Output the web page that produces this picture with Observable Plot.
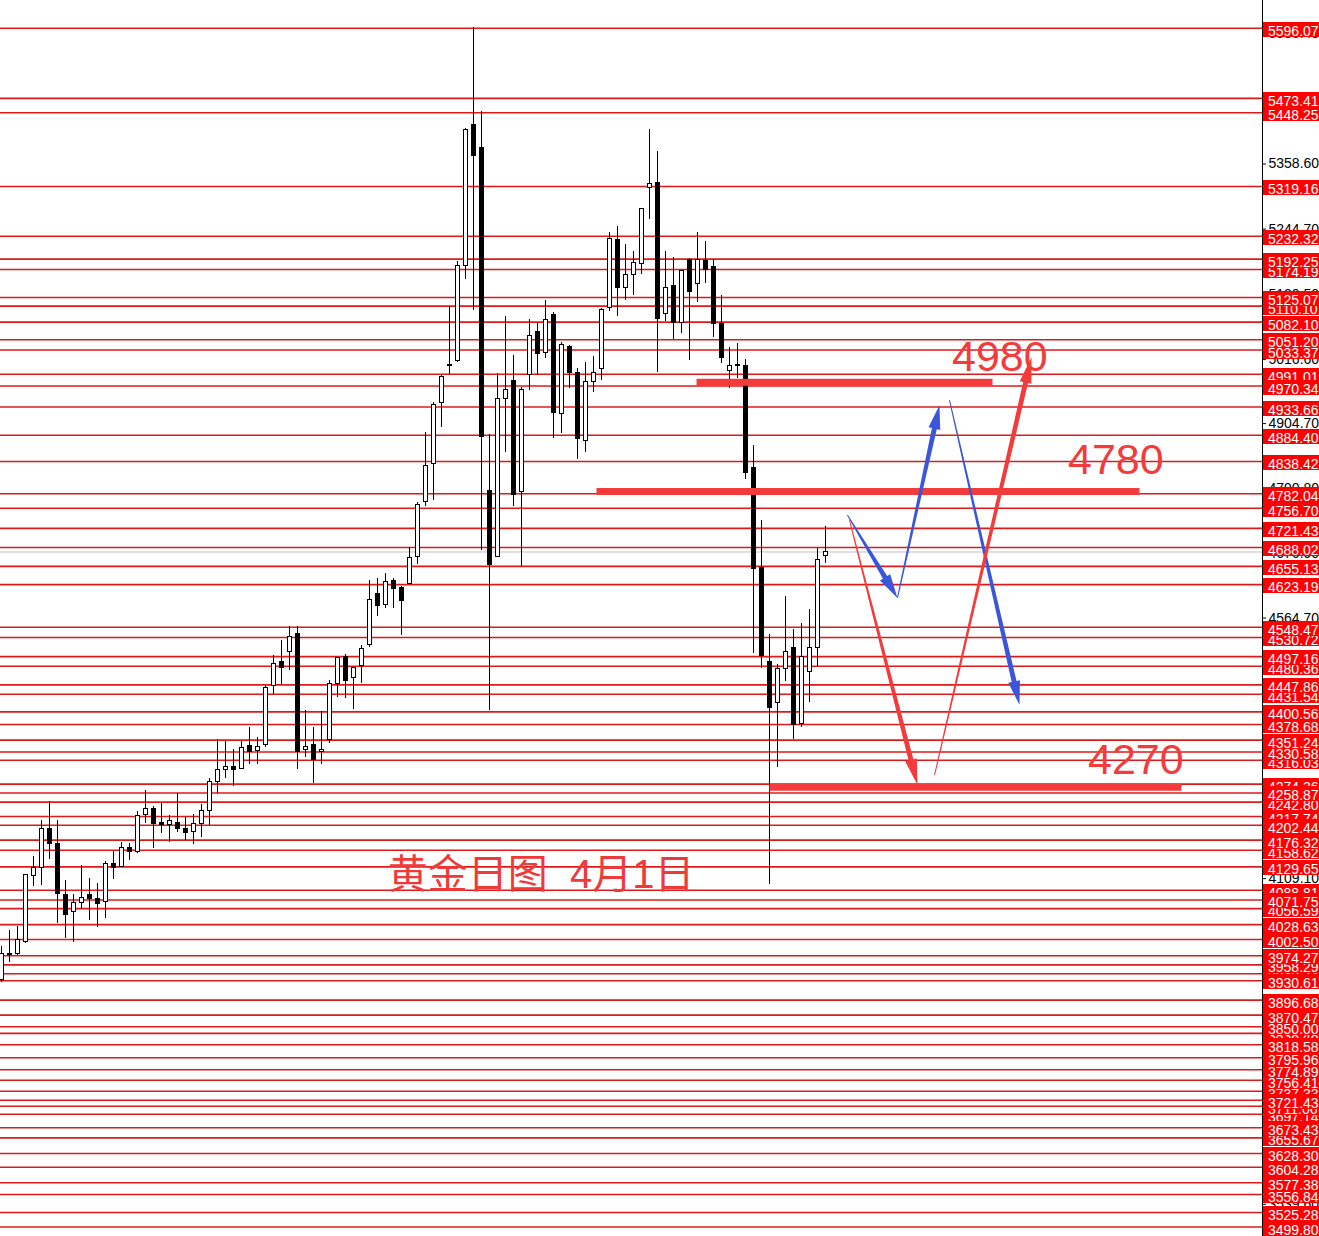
<!DOCTYPE html>
<html><head><meta charset="utf-8">
<script src="https://cdn.jsdelivr.net/npm/d3@7"></script>
<script src="https://cdn.jsdelivr.net/npm/@observablehq/plot@0.6"></script>
<style>
html,body{margin:0;padding:0;background:#fff;overflow:hidden;}
#chart svg{display:block;overflow:hidden;}
</style></head><body><div id="chart"></div>
<script>
// ---- daily gold candles (price units) ----
const openP = [3931,3978,3977,3998,4113,4127,4196,4170,4081,4050,4067,4080,4074,4069,4134,4130,4163,4156,4221,4231,4207,4202,4207,4196,4190,4205,4228,4278,4299,4305,4301,4341,4332,4342,4445,4487,4505,4536,4334,4342,4330,4351,4449,4496,4459,4480,4517,4606,4588,4630,4618,4625,4672,4767,4834,4940,5008,5015,5181,5426,5386,4786,4671,4947,4980,4785,4989,5064,5029,5094,4921,5039,4994,4874,4978,5001,5106,5226,5142,5165,5184,5316,5325,5097,5146,5081,5191,5149,5189,5179,5078,4996,5008,5005,4827,4653,4487,4416,4475,4513,4379,4470,4513,4674];
const highP = [3991,4019,4026,4117,4148,4211,4244,4210,4106,4081,4132,4109,4101,4139,4156,4172,4170,4226,4263,4235,4240,4219,4258,4216,4221,4238,4285,4352,4348,4334,4348,4374,4356,4447,4499,4525,4550,4550,4403,4374,4402,4456,4496,4501,4479,4517,4630,4634,4642,4634,4620,4688,4766,4889,4942,4989,5109,5188,5420,5597,5450,4886,4992,5092,5024,4968,5087,5080,5120,5099,5046,5041,5001,5012,5022,5106,5238,5249,5217,5205,5280,5419,5381,5205,5195,5172,5193,5238,5223,5191,5128,5038,5045,5017,4866,4735,4536,4484,4602,4545,4555,4580,4686,4724];
const lowP = [3928,3963,3975,3996,4095,4097,4142,4031,4005,3998,4055,4036,4024,4039,4108,4128,4141,4153,4205,4162,4188,4172,4190,4176,4169,4181,4202,4258,4284,4271,4300,4309,4309,4339,4431,4449,4473,4300,4321,4276,4309,4346,4426,4424,4405,4451,4513,4567,4581,4581,4534,4623,4658,4759,4771,4898,4991,5012,5156,5102,4683,4403,4671,4855,4759,4655,4963,4989,5019,4879,4888,4966,4842,4855,4959,4980,5101,5092,5120,5128,5165,5262,4994,5083,5052,5062,5015,5116,5149,5055,5010,4966,4984,4807,4503,4477,4099,4304,4454,4353,4374,4417,4480,4660];
const closeP = [3978,3975,4001,4115,4127,4195,4170,4083,4045,4067,4076,4074,4064,4134,4128,4163,4155,4219,4231,4205,4202,4209,4195,4188,4205,4228,4278,4299,4305,4299,4338,4330,4339,4443,4485,4478,4531,4330,4339,4316,4334,4449,4494,4454,4477,4510,4597,4585,4627,4616,4594,4670,4763,4830,4937,4987,5005,5181,5418,5372,4882,4658,4947,4963,4780,4963,5057,5026,5085,4923,5043,4994,4877,4977,4994,5104,5228,5142,5165,5186,5280,5323,5087,5141,5081,5172,5135,5191,5174,5078,5020,5006,5005,4818,4651,4498,4407,4475,4505,4377,4496,4512,4667,4681];

// ---- horizontal price levels (labels fully shown / partly covered) ----
const levelsFull = [3499.80,3525.28,3577.38,3628.30,3673.43,3721.43,3795.96,3818.58,3870.47,3896.68,3930.61,3974.27,4028.63,4071.75,4129.65,4176.32,4202.44,4258.87,4330.58,4351.24,4378.68,4400.56,4447.86,4497.16,4548.47,4623.19,4655.13,4688.02,4721.43,4756.70,4782.04,4838.42,4884.40,4933.66,4970.34,5051.20,5082.10,5125.07,5192.25,5232.32,5319.16,5448.25,5473.41,5596.07];
const levelsHidden = [3556.84,3604.28,3655.67,3697.14,3711.06,3737.33,3756.41,3774.89,3838.48,3850.00,3942.74,3958.29,4002.50,4056.59,4088.81,4158.62,4217.74,4242.80,4274.36,4316.03,4431.54,4480.36,4530.72,4991.01,5033.37,5110.10,5174.19];
const axisTicks = [5586.40,5472.50,5358.60,5244.70,5130.50,5016.60,4904.70,4790.80,4676.90,4564.70,4450.80,4336.90,4223.00,4109.10,3995.20,3881.30,3767.40,3653.50,3539.60];
const bidPrice = [4680.2];

// ---- hand-drawn annotations (candle index, price) ----
const zoneText = ["4980","4780","4270"];
const zonePrice = [4977,4786,4269];
const zoneFrom = [86.94,74.44,96.06];
const zoneTo = [123.94,142.31,147.56];
const zoneTextIdx = [118.81,133.31,135.81];
const zoneTextPrice = [5020,4840,4316];
const titleText = ["黄金日图  4月1日"];
const titleIdx = [67.44];
const titlePrice = [4114.5];
const blueArrows = [[105.8,4744,112.06,4599],[112.06,4599,117.31,4936],[118.56,4945,127.31,4412]];
const redArrows = [[106.06,4735,114.56,4272],[116.69,4289,128.81,5020]];

// ---- build ----
const W = 1319, H = 1236;
const xDomain = [-0.125, 157.625];
const yDomain = [3483.3, 5644.5];
const FONT = "'Liberation Sans', Arial, sans-serif";
const candles = openP.map((o, i) => ({i, open: o, high: highP[i], low: lowP[i], close: closeP[i]}));
const up = candles.filter(d => d.close >= d.open);
const down = candles.filter(d => d.close < d.open);
const zones = zonePrice.map((v, k) => ({v, a: zoneFrom[k], b: zoneTo[k], t: zoneText[k], tx: zoneTextIdx[k], ty: zoneTextPrice[k]}));
const toRows = arr => arr.map(a => ({x1: a[0], y1: a[1], x2: a[2], y2: a[3]}));

function taperArrows(rows, color, w1, hw, L) {
  return Plot.arrow(rows, {x1: "x1", y1: "y1", x2: "x2", y2: "y2", render(index, scales, values) {
    const g = d3.create("svg:g");
    for (const i of index) {
      const sx = values.x1[i], sy = values.y1[i], ex = values.x2[i], ey = values.y2[i];
      const dx = ex - sx, dy = ey - sy, len = Math.hypot(dx, dy);
      const ux = dx / len, uy = dy / len, nx = -uy, ny = ux;
      const w0 = 0.5;
      const bx = ex - ux * L, by = ey - uy * L;
      const pts = [[sx + nx * w0, sy + ny * w0], [bx + nx * w1, by + ny * w1], [bx + nx * hw, by + ny * hw], [ex, ey],
                   [bx - nx * hw, by - ny * hw], [bx - nx * w1, by - ny * w1], [sx - nx * w0, sy - ny * w0]];
      g.append("path").attr("d", "M" + pts.map(p => p[0].toFixed(2) + "," + p[1].toFixed(2)).join("L") + "Z")
        .attr("fill", color).attr("stroke", "none");
    }
    return g.node();
  }});
}

function labelBoxes(vals) {
  return Plot.text(vals, {y: d => d, text: d => d.toFixed(2), render(index, scales, values, dimensions) {
    const g = d3.create("svg:g").attr("text-anchor", "start");
    const left = dimensions.width - dimensions.marginRight + 1;
    for (const i of index) {
      const y = Math.round(values.y[i]);
      g.append("rect").attr("x", left).attr("y", y - 6).attr("width", dimensions.marginRight).attr("height", 15)
        .attr("fill", "#f00").attr("stroke", "none");
      g.append("text").attr("x", left + 5).attr("y", y + 7.5).attr("fill", "#fff").attr("stroke", "none")
        .attr("text-anchor", "start").attr("font-size", 14).attr("font-family", FONT).text(vals[i].toFixed(2));
    }
    return g.node();
  }});
}

const chart = Plot.plot({
  width: W, height: H,
  marginLeft: 0, marginRight: 57, marginTop: 0, marginBottom: 0,
  x: {domain: xDomain, axis: null},
  y: {domain: yDomain, axis: null},
  style: {fontFamily: FONT, fontSize: "14px", background: "#fff", overflow: "hidden"},
  marks: [
    Plot.ruleY(levelsHidden.concat(levelsFull), {stroke: "#dc1a1a", strokeWidth: 1.6}),
    Plot.ruleY(bidPrice, {stroke: "#c0c0c0", strokeWidth: 1}),
    Plot.axisY(axisTicks, {anchor: "right", tickSize: 3, tickPadding: 3, tickFormat: d => d.toFixed(2), fontSize: 14, label: null, fill: "#000", stroke: "#000"}),
    Plot.ruleX([xDomain[1]], {stroke: "#000", shapeRendering: "crispEdges"}),
    Plot.ruleX(candles, {x: "i", y1: "low", y2: "high", stroke: "#000", strokeWidth: 1, shapeRendering: "crispEdges"}),
    Plot.rect(up, {x1: d => d.i - 0.25, x2: d => d.i + 0.25, y1: "open", y2: "close", fill: "#fff", stroke: "#000", strokeWidth: 1, shapeRendering: "crispEdges"}),
    Plot.rect(down, {x1: d => d.i - 0.25, x2: d => d.i + 0.25, y1: "open", y2: "close", fill: "#000", stroke: "#000", strokeWidth: 1, shapeRendering: "crispEdges"}),
    Plot.ruleY(zones, {y: "v", x1: "a", x2: "b", stroke: "#f33b3b", strokeWidth: 7}),
    Plot.text(zones, {x: "tx", y: "ty", text: "t", textAnchor: "start", lineAnchor: "middle", fontSize: 43, fill: "#f33b3b", fontFamily: FONT}),
    Plot.text(titleText, {x: () => titleIdx[0], y: () => titlePrice[0], text: d => d, textAnchor: "middle", lineAnchor: "middle", fontSize: 40, fill: "#f03a3a", fontFamily: "'Liberation Sans','Noto Sans CJK SC',sans-serif"}),
    taperArrows(toRows(blueArrows), "#3b57d9", 2.5, 6, 24),
    taperArrows(toRows(redArrows), "#f33b3b", 2.5, 6, 26),
    labelBoxes(levelsHidden),
    labelBoxes(levelsFull)
  ]
});
document.getElementById("chart").appendChild(chart);
</script>
</body></html>
